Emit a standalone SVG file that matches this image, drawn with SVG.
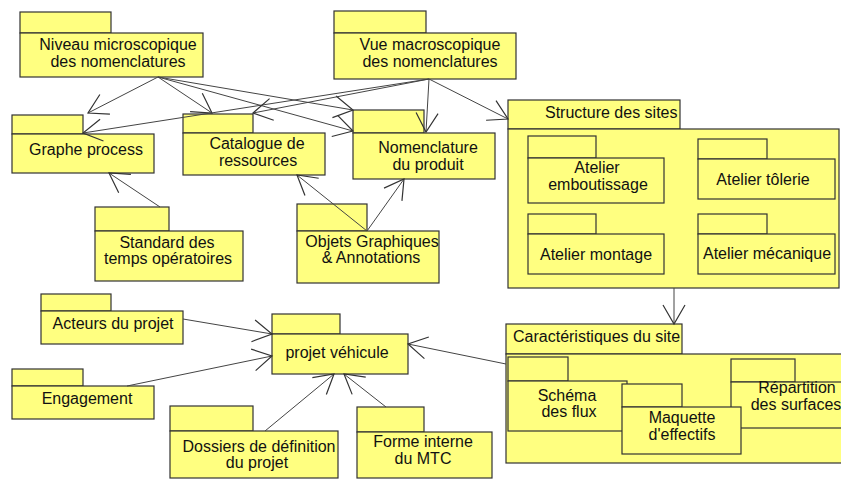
<svg xmlns="http://www.w3.org/2000/svg" width="841" height="480" viewBox="0 0 841 480">
<style>
.pk rect{fill:#FFFF80;stroke:#333;stroke-width:1.2}
text{font-family:"Liberation Sans",Arial,sans-serif;font-size:16px;fill:#111}
.c{text-anchor:middle}
.cn line{stroke:#444;stroke-width:1}
</style>
<defs>
<marker id="arr" markerUnits="userSpaceOnUse" markerWidth="40" markerHeight="40" viewBox="-20 -20 40 40" refX="0" refY="0" orient="auto" overflow="visible">
<path d="M-19,-11 L0,0 L-19,11" fill="none" stroke="#333" stroke-width="1.2"/>
</marker>
</defs>
<rect width="841" height="480" fill="#fff"/>
<g id="niveau" class="pk"><rect x="20" y="12" width="91" height="21"/><rect x="20" y="33" width="183" height="44"/><text class="c" x="118" y="50">Niveau microscopique</text><text class="c" x="118" y="67">des nomenclatures</text></g>
<g id="vue" class="pk"><rect x="334" y="11" width="92" height="22"/><rect x="334" y="33" width="182" height="46"/><text class="c" x="430" y="50">Vue macroscopique</text><text class="c" x="430" y="67">des nomenclatures</text></g>
<g id="graphe" class="pk"><rect x="12" y="115" width="71" height="19"/><rect x="12" y="134" width="142" height="39"/><text class="c" x="86" y="155">Graphe process</text></g>
<g id="catalogue" class="pk"><rect x="183" y="114" width="70" height="19"/><rect x="183" y="133" width="142" height="42"/><text class="c" x="257" y="149">Catalogue de</text><text class="c" x="258" y="166">ressources</text></g>
<g id="nomenclature" class="pk"><rect x="353" y="110" width="71" height="23"/><rect x="353" y="133" width="142" height="46"/><text class="c" x="428" y="153">Nomenclature</text><text class="c" x="428" y="170">du produit</text></g>
<g id="structure" class="pk"><rect x="508" y="100" width="172" height="29"/><rect x="508" y="129" width="331" height="159"/><text x="545" y="118">Structure des sites</text>
<g id="emboutissage"><rect x="528" y="136" width="68" height="22"/><rect x="528" y="158" width="136" height="45"/><text class="c" x="597" y="173">Atelier</text><text class="c" x="598" y="190">emboutissage</text></g>
<g id="tolerie"><rect x="698" y="139" width="69" height="20"/><rect x="698" y="159" width="137" height="40"/><text class="c" x="763" y="185">Atelier tôlerie</text></g>
<g id="montage"><rect x="528" y="214" width="68" height="20"/><rect x="528" y="234" width="136" height="40"/><text class="c" x="596" y="260">Atelier montage</text></g>
<g id="mecanique"><rect x="698" y="214" width="69" height="20"/><rect x="698" y="234" width="137" height="40"/><text class="c" x="767" y="259">Atelier mécanique</text></g>
</g>
<g id="standard" class="pk"><rect x="95" y="207" width="74" height="24"/><rect x="95" y="231" width="148" height="50"/><text class="c" x="167" y="248">Standard des</text><text class="c" x="168" y="264">temps opératoires</text></g>
<g id="objets" class="pk"><rect x="297" y="204" width="70" height="27"/><rect x="297" y="231" width="142" height="52"/><text class="c" x="372" y="247">Objets Graphiques</text><text class="c" x="371" y="263">&amp; Annotations</text></g>
<g id="acteurs" class="pk"><rect x="41" y="294" width="70" height="17"/><rect x="41" y="311" width="142" height="33"/><text class="c" x="113" y="329">Acteurs du projet</text></g>
<g id="engagement" class="pk"><rect x="12" y="369" width="71" height="17"/><rect x="12" y="386" width="142" height="33"/><text class="c" x="87" y="404">Engagement</text></g>
<g id="dossiers" class="pk"><rect x="170" y="406" width="83" height="25"/><rect x="170" y="431" width="168" height="47"/><text class="c" x="259" y="452">Dossiers de définition</text><text class="c" x="257" y="468">du projet</text></g>
<g id="projet" class="pk"><rect x="272" y="314" width="68" height="20"/><rect x="272" y="334" width="136" height="40"/><text class="c" x="337" y="358">projet véhicule</text></g>
<g id="forme" class="pk"><rect x="357" y="407" width="67" height="25"/><rect x="357" y="432" width="135" height="46"/><text class="c" x="423" y="447">Forme interne</text><text class="c" x="423" y="464">du MTC</text></g>
<g id="caracteristiques" class="pk"><rect x="506" y="324" width="176" height="30"/><rect x="506" y="354" width="340" height="109"/><text x="513" y="342">Caractéristiques du site</text>
<g id="schema"><rect x="508" y="357" width="60" height="24"/><rect x="508" y="381" width="119" height="50"/><text class="c" x="567" y="401">Schéma</text><text class="c" x="569" y="417">des flux</text></g>
<g id="repartition"><rect x="731" y="359" width="64" height="23"/><rect x="731" y="382" width="115" height="46"/><text class="c" x="797" y="393">Répartition</text><text class="c" x="796" y="410">des surfaces</text></g>
<g id="maquette"><rect x="622" y="384" width="60" height="23"/><rect x="622" y="407" width="119" height="47"/><text class="c" x="682" y="423">Maquette</text><text class="c" x="682" y="440">d'effectifs</text></g>
</g>
<g id="connectors" class="cn" marker-end="url(#arr)">
<line x1="158" y1="77" x2="88" y2="113"/>
<line x1="158" y1="77" x2="212" y2="113"/>
<line x1="158" y1="77" x2="353" y2="110"/>
<line x1="158" y1="77" x2="353" y2="131"/>
<line x1="429" y1="79" x2="83" y2="133"/>
<line x1="429" y1="79" x2="253" y2="113"/>
<line x1="429" y1="79" x2="426" y2="132"/>
<line x1="429" y1="79" x2="508" y2="119"/>
<line x1="160" y1="207" x2="109" y2="173"/>
<line x1="367" y1="231" x2="297" y2="175"/>
<line x1="367" y1="231" x2="404" y2="179"/>
<line x1="183" y1="319" x2="272" y2="334"/>
<line x1="127" y1="386" x2="272" y2="356"/>
<line x1="265" y1="431" x2="334" y2="374"/>
<line x1="386" y1="407" x2="344" y2="374"/>
<line x1="506" y1="364" x2="408" y2="344"/>
<line x1="674" y1="288" x2="674" y2="324"/>
</g>
</svg>
